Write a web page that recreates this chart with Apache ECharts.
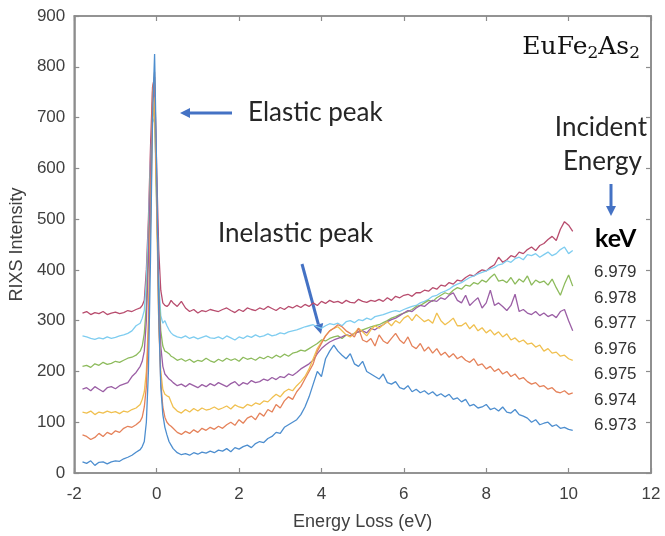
<!DOCTYPE html>
<html>
<head>
<meta charset="utf-8">
<script src="https://cdn.jsdelivr.net/npm/echarts@6/dist/echarts.min.js"></script>
<style>
html,body{margin:0;padding:0;background:#fff;}
#chart{width:665px;height:536px;}
</style>
</head>
<body>
<div id="chart"></div>
<script>
// Energy loss (eV), shared by all spectra
const energyLoss = [
-1.8,-1.7,-1.6,-1.5,-1.4,-1.3,-1.2,-1.1,-1.0,-0.9,-0.8,-0.7,-0.6,-0.5,-0.4,
-0.35,-0.3,-0.25,-0.2,-0.15,-0.1,-0.05,0,0.05,0.1,0.15,0.2,0.25,0.3,0.35,
0.4,0.5,0.6,0.7,0.8,0.9,1.0,1.1,1.2,1.3,
1.4,1.5,1.6,1.7,1.8,1.9,2.0,2.1,2.2,2.3,
2.4,2.5,2.6,2.7,2.8,2.9,3.0,3.1,3.2,3.3,
3.4,3.5,3.6,3.7,3.8,3.9,4.0,4.1,4.2,4.3,
4.4,4.5,4.6,4.7,4.8,4.9,5.0,5.1,5.2,5.3,
5.4,5.5,5.6,5.7,5.8,5.9,6.0,6.1,6.2,6.3,
6.4,6.5,6.6,6.7,6.8,6.9,7.0,7.1,7.2,7.3,
7.4,7.5,7.6,7.7,7.8,7.9,8.0,8.1,8.2,8.3,
8.4,8.5,8.6,8.7,8.8,8.9,9.0,9.1,9.2,9.3,
9.4,9.5,9.6,9.7,9.8,9.9,10.0,10.1
];

const incidentLabels = ['6.973','6.974','6.975','6.976','6.977','6.978','6.979'];

const i6973 = [
22,19,24,15,21,22,18,22,24,23,28,31,35,41,46,
52,62,100,200,420,700,825,600,320,170,115,90,75,62,55,
48,40,36,38,35,40,37,41,39,43,
40,45,43,48,42,50,47,52,55,50,
58,62,60,68,72,80,78,90,95,100,
105,115,130,150,175,200,190,225,240,252,
240,232,225,235,215,210,220,200,195,190,
185,195,178,175,180,168,165,172,160,165,
158,162,155,160,152,156,150,155,145,148,
140,145,132,135,128,130,135,125,128,122,
130,120,118,125,115,112,108,100,105,95,
98,100,92,95,88,90,86,84
];
const i6974 = [
75,72,66,70,78,72,80,76,83,80,88,92,90,95,102,
110,130,170,280,500,750,790,560,300,180,130,110,100,95,92,
88,80,76,82,78,85,80,88,84,90,
86,92,88,95,100,94,105,98,108,112,
105,118,112,125,120,135,128,142,150,145,
160,170,185,200,215,240,255,270,280,285,
292,288,280,275,268,285,262,258,265,250,
272,260,255,265,275,262,255,268,250,245,
255,240,248,236,245,232,238,228,235,225,
230,222,218,225,212,215,205,210,200,205,
195,200,190,195,185,188,180,175,178,170,
172,165,168,160,158,162,155,158
];
const i6975 = [
120,118,122,115,120,118,122,119,121,117,122,120,125,128,135,
145,160,200,300,480,690,740,520,300,200,165,155,152,150,140,
130,122,118,125,120,127,122,128,124,126,
130,125,128,132,126,134,130,128,135,132,
138,135,142,140,148,155,150,160,165,162,
172,180,190,205,225,245,258,270,280,285,
288,280,272,268,275,285,278,270,282,290,
285,292,298,290,300,295,305,310,300,312,
305,298,302,295,315,300,292,298,305,290,
290,296,284,292,280,286,276,282,272,278,
268,274,262,266,258,262,254,256,248,252,
240,245,236,238,230,232,225,222
];
const i6976 = [
165,168,162,170,165,160,168,170,166,172,175,178,190,198,210,
220,240,300,420,580,730,760,560,350,250,210,195,190,185,182,
178,172,175,170,176,172,168,174,170,176,
172,178,174,170,176,180,172,178,175,182,
178,180,185,182,188,184,190,188,195,192,
198,205,210,215,222,235,245,252,258,262,
265,268,272,270,275,278,280,276,285,282,
288,292,298,302,305,310,315,320,318,325,
330,328,335,340,338,345,342,350,355,340,
335,350,330,338,345,325,335,360,330,335,
328,320,330,352,318,322,315,312,318,310,
315,308,312,306,318,322,300,280
];
const i6977 = [
210,212,208,215,212,218,214,216,220,218,222,226,228,232,240,
250,275,330,440,590,700,720,540,360,280,250,240,238,235,230,
228,222,225,220,224,218,222,220,226,221,
218,224,220,226,222,225,220,228,224,226,
222,228,225,230,226,232,228,234,230,236,
238,242,240,245,250,255,262,260,265,268,
270,265,272,270,275,278,282,285,288,290,
292,296,300,305,308,312,315,318,322,328,
330,335,340,338,345,350,355,352,360,365,
362,370,368,375,372,380,376,385,392,378,
380,375,385,372,382,376,388,370,380,375,
378,370,382,365,350,372,390,368
];
const i6978 = [
270,268,265,263,266,264,268,265,267,270,272,275,280,290,295,
305,320,380,480,610,690,700,520,380,310,295,300,290,282,276,
272,268,266,270,265,268,264,267,270,266,
265,268,264,270,266,262,268,265,270,267,
272,268,270,274,270,272,276,274,278,280,
282,285,288,290,292,288,285,290,294,292,
295,290,298,300,296,302,300,305,302,308,
310,312,315,318,320,318,322,325,328,330,
335,338,342,348,350,355,358,362,368,372,
375,380,385,388,392,395,398,402,405,410,
412,418,415,422,425,420,430,428,432,425,
430,435,428,432,440,445,432,438
];
const i6979 = [
315,318,312,316,314,318,312,315,317,314,316,320,318,322,325,
330,340,400,500,640,760,780,600,440,360,335,330,328,332,340,
335,328,338,325,318,322,315,320,318,322,
320,318,322,325,320,316,322,318,325,322,
320,325,322,328,324,320,326,322,328,325,
330,326,332,328,335,330,338,334,340,336,
338,334,340,336,335,342,338,336,340,338,
342,338,345,340,348,345,350,352,348,355,
355,360,358,365,362,370,368,375,372,380,
378,385,390,388,395,400,398,405,410,425,
415,420,428,425,435,432,440,445,438,448,
452,460,466,458,480,495,488,476
];

const spectra = [i6973, i6974, i6975, i6976, i6977, i6978, i6979];
const colors = ['#4d8ecf','#e5825a','#f0c050','#9b5fa5','#8dbb5c','#7fcdf0','#b84d6e'];

const series = [];
for (let k = spectra.length - 1; k >= 0; k--) {
  series.push({
    name: incidentLabels[k],
    type: 'line',
    showSymbol: false,
    symbol: 'none',
    xAxisIndex: 0,
    yAxisIndex: 0,
    data: energyLoss.map((x, i) => [x, spectra[k][i]]),
    lineStyle: { width: 1.3, color: colors[k] },
    itemStyle: { color: colors[k] },
    z: 2 + (spectra.length - k)
  });
}
// empty series bound to the mirror axes so the box ticks render
series.push({ type: 'line', xAxisIndex: 1, yAxisIndex: 1, data: [], symbol: 'none', silent: true });

const axisColor = '#8c8c8c';
const fontFam = '"Liberation Sans", Arial, sans-serif';
const tickFont = { color: '#404040', fontSize: 17, fontFamily: fontFam };

const chart = echarts.init(document.getElementById('chart'), null, { renderer: 'canvas' });

const labelGraphics = incidentLabels.slice().reverse().map((t, j) => ({
  type: 'text',
  left: 594,
  top: 273 + j * 25.5 - 9,
  style: { text: t, fill: '#333', font: '17px "Liberation Sans", Arial, sans-serif' }
}));

function arrow(x1, y1, x2, y2) {
  const dx = x2 - x1, dy = y2 - y1, L = Math.hypot(dx, dy);
  const ux = dx / L, uy = dy / L;
  const hl = 10, hw = 5;
  const bx = x2 - ux * hl, by = y2 - uy * hl;
  return [
    { type: 'line', shape: { x1: x1, y1: y1, x2: bx, y2: by }, style: { stroke: '#4472c4', lineWidth: 3 } },
    { type: 'polygon', shape: { points: [[x2, y2], [bx - uy * hw, by + ux * hw], [bx + uy * hw, by - ux * hw]] }, style: { fill: '#4472c4' } }
  ];
}

function boxAxis(extra) {
  return Object.assign({
    type: 'value',
    axisLine: { show: true, onZero: false, lineStyle: { color: axisColor, width: 1.6 } },
    axisTick: { show: true, inside: true, length: 5, lineStyle: { color: axisColor, width: 1.2 } },
    splitLine: { show: false }
  }, extra);
}

const calibri = 'Lato, "Open Sans", sans-serif';

chart.setOption({
  animation: false,
  backgroundColor: '#fff',
  grid: { left: 73, right: 14, top: 16, bottom: 62, containLabel: false,
          show: true, borderColor: axisColor, borderWidth: 1.6, backgroundColor: 'rgba(0,0,0,0)' },
  xAxis: [
    boxAxis({
      min: -2, max: 12, interval: 2, position: 'bottom',
      name: 'Energy Loss (eV)', nameLocation: 'middle', nameGap: 40,
      nameTextStyle: { color: '#404040', fontSize: 18, fontFamily: fontFam },
      axisLabel: Object.assign({ margin: 13 }, tickFont)
    }),
    boxAxis({
      min: -2, max: 12, interval: 2, position: 'top',
      axisLabel: { show: false }
    })
  ],
  yAxis: [
    boxAxis({
      min: 0, max: 900, interval: 100, position: 'left',
      name: 'RIXS Intensity', nameLocation: 'middle', nameGap: 45,
      nameTextStyle: { color: '#404040', fontSize: 18, fontFamily: fontFam },
      axisLabel: Object.assign({ margin: 9 }, tickFont)
    }),
    boxAxis({
      min: 0, max: 900, interval: 100, position: 'right',
      axisLabel: { show: false }
    })
  ],
  series: series,
  graphic: [
    {
      type: 'text', right: 25, top: 35,
      style: {
        text: 'EuFe{s|2}As{s|2}',
        font: '25px "DejaVu Serif", serif', fill: '#111',
        rich: { s: { font: '17px "DejaVu Serif", serif', fill: '#111', verticalAlign: 'bottom', padding: [13, 0, 0, 0] } }
      }
    },
    { type: 'text', left: 248, top: 100, style: { text: 'Elastic peak', fill: '#262626', font: '26px ' + calibri } },
    { type: 'text', left: 218, top: 221, style: { text: 'Inelastic peak', fill: '#262626', font: '26px ' + calibri } },
    { type: 'text', right: 18, top: 115, style: { text: 'Incident', fill: '#262626', font: '26px ' + calibri } },
    { type: 'text', right: 23, top: 149, style: { text: 'Energy', fill: '#262626', font: '26px ' + calibri } },
    { type: 'text', left: 595, top: 226, style: { text: 'keV', fill: '#000', font: 'bold 25px ' + calibri } },
    ...arrow(232, 113, 180, 113),
    ...arrow(611, 184, 611, 216),
    ...arrow(302, 264, 321, 334),
    ...labelGraphics
  ]
});
</script>
</body>
</html>
